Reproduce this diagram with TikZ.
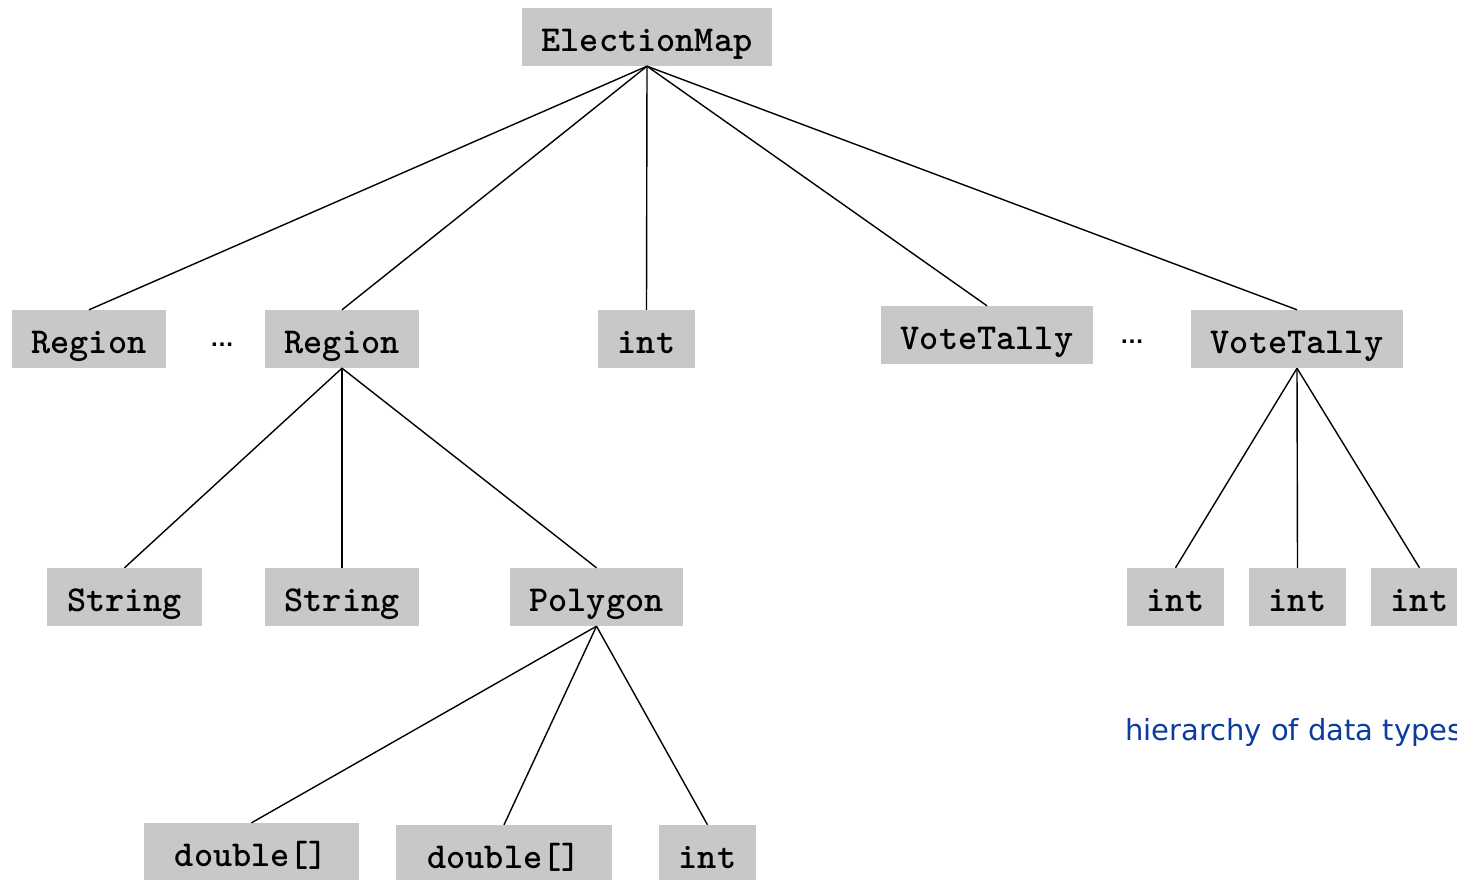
\documentclass[tikz,border=0pt]{standalone}
\usepackage{fontspec}
\newfontfamily\notefont{DejaVu Sans}
\newfontfamily\dotfont{Liberation Sans}
\definecolor{boxgray}{HTML}{C8C8C8}
\definecolor{noteblue}{HTML}{0B3C9E}
\begin{document}
\begin{tikzpicture}[x=1pt,y=-1pt,
  tbox/.style={fill=boxgray, draw=none, inner sep=0pt, minimum height=58pt,
    text height=43pt, text depth=15pt,
    font=\fontsize{36.5}{36.5}\selectfont\ttfamily\bfseries},
  link/.style={draw=black, line width=1.4pt},
  dots/.style={font=\fontsize{24}{24}\selectfont\dotfont\bfseries}]
\useasboundingbox (0,0) rectangle (1457,879);
\clip (0,0) rectangle (1457,879);
% level 0
\node[tbox, minimum width=250pt] (em) at (647,37) {ElectionMap};
% level 1
\node[tbox, minimum width=154pt] (r1) at (89,339) {Region};
\node[dots] (d1) at (222,345) {…};
\node[tbox, minimum width=154pt] (r2) at (342,339) {Region};
\node[tbox, minimum width=97pt] (i0) at (646.5,339) {int};
\node[tbox, minimum width=212pt] (v1) at (987,335) {VoteTally};
\node[dots] (d2) at (1132,342) {…};
\node[tbox, minimum width=212pt] (v2) at (1297,339) {VoteTally};
% level 2
\node[tbox, minimum width=155pt] (s1) at (124.5,597) {String};
\node[tbox, minimum width=154pt] (s2) at (342,597) {String};
\node[tbox, minimum width=173pt] (pg) at (596.5,597) {Polygon};
\node[tbox, minimum width=97pt] (i1) at (1175.5,597) {int};
\node[tbox, minimum width=97pt] (i2) at (1297.5,597) {int};
\node[tbox, minimum width=97pt] (i3) at (1419.5,597) {int};
% level 3
\node[tbox, minimum width=215pt] (db1) at (251.5,852) {double[]};
\node[tbox, minimum width=216pt] (db2) at (504,854) {double[]};
\node[tbox, minimum width=97pt] (i4) at (707.5,854) {int};
% note
\node[anchor=base west, text=noteblue, font=\fontsize{29}{29}\selectfont\notefont, inner sep=0pt] (note) at (1125,740) {hierarchy of data types};
% links
\foreach \c in {r1,r2,i0,v1,v2} \draw[link] (em.south) -- (\c.north);
\foreach \c in {s1,s2,pg} \draw[link] (r2.south) -- (\c.north);
\foreach \c in {db1,db2,i4} \draw[link] (pg.south) -- (\c.north);
\foreach \c in {i1,i2,i3} \draw[link] (v2.south) -- (\c.north);
\end{tikzpicture}
\end{document}
